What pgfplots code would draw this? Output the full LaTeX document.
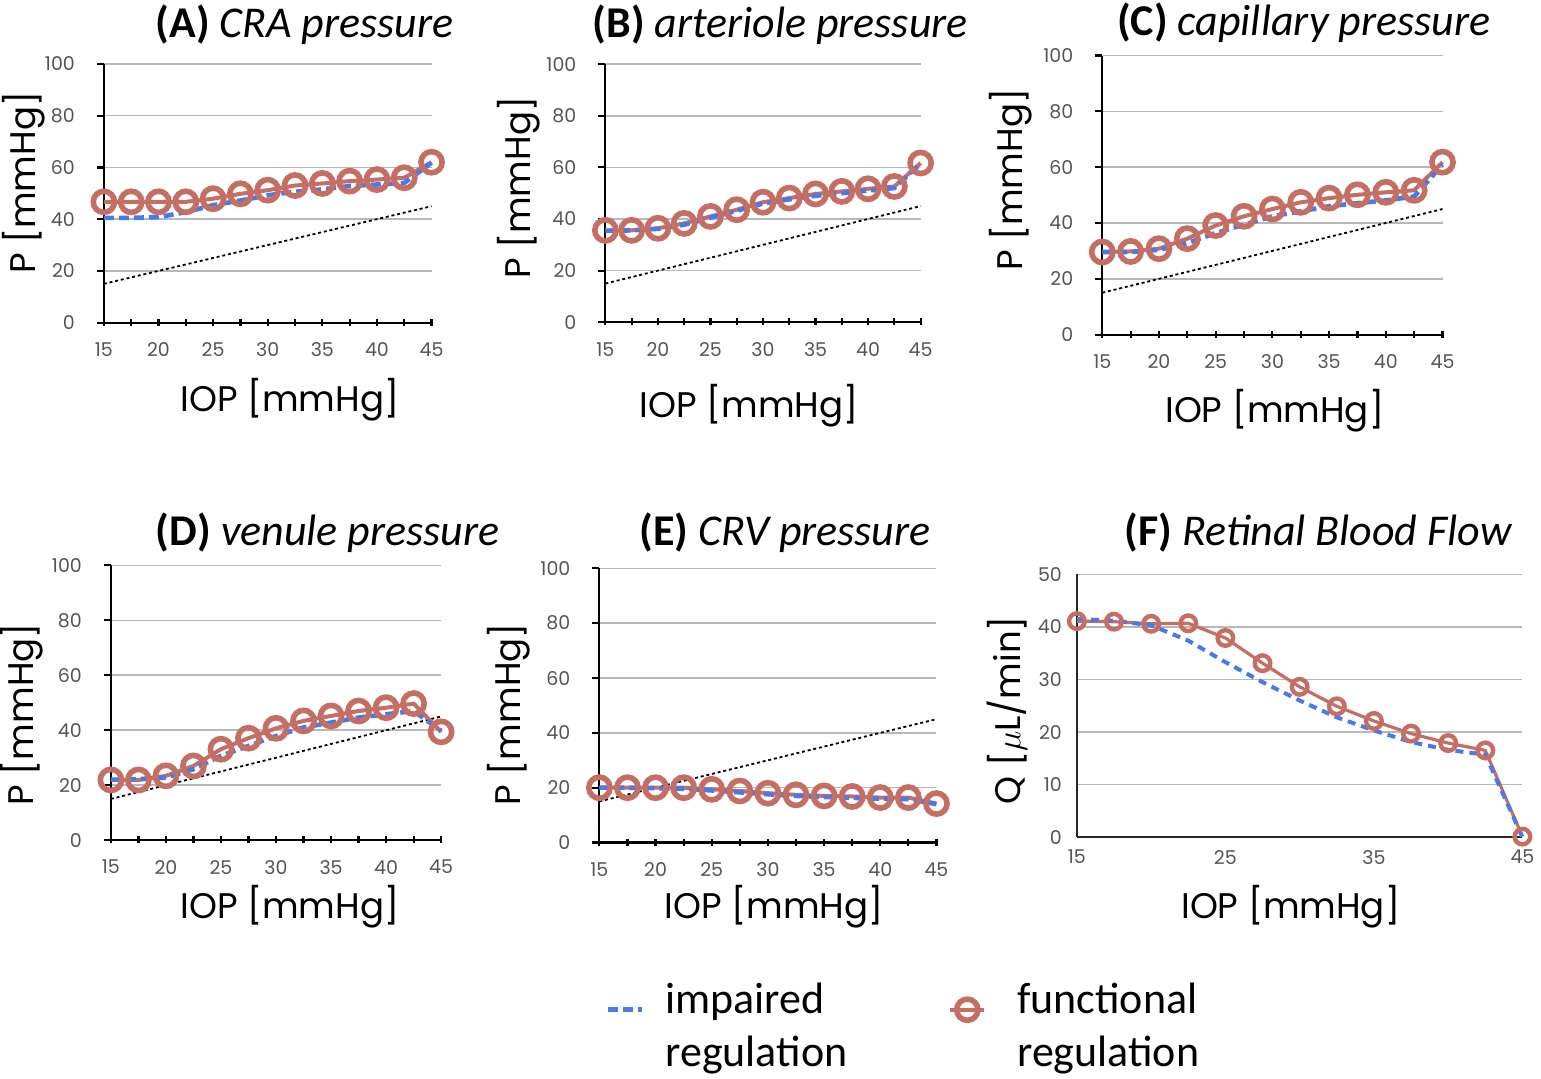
\documentclass[border=0pt]{standalone}
\usepackage{fontspec}
\setmainfont{Carlito}
\newfontfamily\popfont{Poppins}
\usepackage{pgfplots}
\usepackage{pgfplotstable}
\pgfplotsset{compat=1.18}

\definecolor{fred}{RGB}{196,110,100}
\definecolor{iblue}{RGB}{72,122,238}
\definecolor{tickgray}{RGB}{85,85,85}

\pgfplotstableread{
x f i
15 46.7 40.5
17.5 46.7 40.5
20 46.7 40.8
22.5 46.7 42.7
25 47.9 45.4
27.5 49.8 47.2
30 51.2 49.2
32.5 53.0 50.6
35 53.8 51.5
37.5 54.7 52.8
40 55.3 53.4
42.5 56.0 54.0
45 62.0 61.8
}\dataA
\pgfplotstableread{
x f i
15 35.6 35.4
17.5 35.6 35.6
20 36.4 36.2
22.5 38.3 37.8
25 41.0 40.5
27.5 43.6 43.2
30 46.5 46.0
32.5 48.1 47.6
35 49.7 49.0
37.5 50.7 50.0
40 51.7 51.0
42.5 52.6 52.0
45 61.7 61.5
}\dataB
\pgfplotstableread{
x f i
15 29.6 29.6
17.5 29.8 29.6
20 30.8 30.4
22.5 34.4 32.8
25 39.1 36.4
27.5 42.4 39.4
30 45.0 42.4
32.5 47.4 44.2
35 48.9 46.0
37.5 50.1 47.1
40 51.0 48.1
42.5 51.7 49.5
45 61.8 60.9
}\dataC
\pgfplotstableread{
x f i
15 21.9 22.0
17.5 21.9 22.2
20 23.4 22.8
22.5 27.0 25.8
25 33.1 30.7
27.5 37.1 34.3
30 40.7 37.9
32.5 43.4 41.0
35 45.2 42.8
37.5 47.0 44.6
40 48.2 45.8
42.5 49.7 47.0
45 39.4 39.8
}\dataD
\pgfplotstableread{
x f i
15 20.0 20.0
17.5 20.0 20.0
20 20.0 19.8
22.5 20.0 19.6
25 19.4 19.0
27.5 18.8 18.3
30 18.0 17.6
32.5 17.4 17.0
35 17.0 16.6
37.5 16.8 16.3
40 16.4 16.0
42.5 16.4 15.8
45 14.2 14.0
}\dataE
\pgfplotstableread{
x f i
15 41.1 41.5
17.5 41.0 41.2
20 40.6 40.3
22.5 40.7 37.4
25 37.9 33.3
27.5 33.1 29.5
30 28.6 26.0
32.5 24.9 22.8
35 22.1 20.3
37.5 19.7 18.1
40 17.9 16.6
42.5 16.5 15.7
45 0.1 0.0
}\dataF

\tikzset{ticklab/.style={font=\popfont\fontsize{9.5}{10}\selectfont, text=tickgray},
  lbl/.style={overlay, inner sep=0pt}}
\pgfplotsset{
  panel/.style={
    scale only axis, clip=false,
    axis x line=bottom, axis y line=left,
    axis line style={-, black, line width=1.1pt},
    xmin=15, xmax=45, ymin=0, ymax=100,
    xtick={15,20,...,45}, minor xtick={17.5,22.5,...,42.5},
    ytick={0,20,...,100},
    ymajorgrids, major grid style={black!28, line width=0.8pt},
    tick align=outside,
    major tick length=3.5pt, minor tick length=3.5pt,
    tick style={black, line width=1.1pt},
    x tick style={yshift=2pt},
    /pgf/number format/assume math mode=true,
    x tick label style={ticklab, yshift=-3pt},
    y tick label style={ticklab, xshift=-7.5pt},
  },
  funct/.style={color=fred, line width=2pt, mark=o, mark size=5.3pt,
    mark options={solid, fill=white, line width=2.8pt}},
  impair/.style={color=iblue, line width=2.3pt, dash pattern=on 5pt off 2.5pt},
  ident/.style={black, line width=0.9pt, dash pattern=on 1.5pt off 1.4pt},
}

\newcommand\mytitle[2]{\fontsize{22}{26}\selectfont\textbf{(#1)} \textit{#2}}
\newcommand\mylab{\popfont\fontsize{17.8}{22}\selectfont}

\begin{document}
\begin{tikzpicture}
\path (0,0) rectangle (770.5pt,540pt);

% (A)
\begin{axis}[panel, at={(52pt,378.5pt)}, anchor=south west, width=164pt, height=129.5pt]
\addplot[ident] coordinates {(15,15) (45,45)};
\addplot[funct] table[x=x,y=f] {\dataA};
\addplot[impair] table[x=x,y=i] {\dataA};
\end{axis}
% (B)
\begin{axis}[panel, at={(303pt,378.7pt)}, anchor=south west, width=157.8pt, height=129.2pt]
\addplot[ident] coordinates {(15,15) (45,45)};
\addplot[funct] table[x=x,y=f] {\dataB};
\addplot[impair] table[x=x,y=i] {\dataB};
\end{axis}
% (C)
\begin{axis}[panel, at={(551.7pt,372.5pt)}, anchor=south west, width=170.3pt, height=139.7pt]
\addplot[ident] coordinates {(15,15) (45,45)};
\addplot[funct] table[x=x,y=f] {\dataC};
\addplot[impair] table[x=x,y=i] {\dataC};
\end{axis}
% (D)
\begin{axis}[panel, at={(55.5pt,119.5pt)}, anchor=south west, width=165.3pt, height=137.5pt]
\addplot[ident] coordinates {(15,15) (45,45)};
\addplot[funct] table[x=x,y=f] {\dataD};
\addplot[impair] table[x=x,y=i] {\dataD};
\end{axis}
% (E)
\begin{axis}[panel, at={(300pt,118.3pt)}, anchor=south west, width=168.7pt, height=137.2pt,
  legend style={at={(axis description cs:0.0,-0.61)}, anchor=west, draw=none, fill=none,
    font=\fontsize{22}{26.5}\selectfont, legend columns=2,
    /tikz/column 1/.style={column sep=8.5pt},
    /tikz/column 2/.style={column sep=48.5pt},
    /tikz/column 3/.style={column sep=13.5pt}},
  legend cell align=left]
\addplot[ident, forget plot] coordinates {(15,15) (45,45)};
\addplot[funct, forget plot] table[x=x,y=f] {\dataE};
\addplot[impair, forget plot] table[x=x,y=i] {\dataE};
\addlegendimage{impair}
\addlegendentry{\begin{tabular}{@{}l@{}}impaired\\regulation\end{tabular}}
\addlegendimage{funct}
\addlegendentry{\begin{tabular}{@{}l@{}}functional\\regulation\end{tabular}}
\end{axis}
% (F)
\begin{axis}[scale only axis, clip=false, at={(539pt,121pt)}, anchor=south west, width=223pt, height=131.5pt,
    axis x line=bottom, axis y line=left,
    axis line style={-, black!85, line width=0.8pt},
    xmin=15, xmax=45, ymin=0, ymax=50,
    xtick={15,25,35,45}, ytick={0,10,...,50},
    ymajorgrids, major grid style={black!28, line width=0.8pt},
    major tick length=0pt,
    /pgf/number format/assume math mode=true,
    x tick label style={ticklab, yshift=-3pt},
    y tick label style={ticklab, xshift=-4pt}]
\addplot[color=fred, line width=1.6pt, mark=o, mark size=3.9pt,
    mark options={solid, fill=white, line width=2.2pt}] table[x=x,y=f] {\dataF};
\addplot[color=iblue, line width=2pt, dash pattern=on 4pt off 3pt] table[x=x,y=i] {\dataF};
\end{axis}

% titles
\node[lbl, anchor=base] at (152.5pt,521pt) {\mytitle{A}{CRA pressure}};
\node[lbl, anchor=base] at (390.5pt,521pt) {\mytitle{B}{arteriole pressure}};
\node[lbl, anchor=base] at (652.5pt,522pt) {\mytitle{C}{capillary pressure}};
\node[lbl, anchor=base] at (164pt,267pt) {\mytitle{D}{venule pressure}};
\node[lbl, anchor=base] at (393pt,267pt) {\mytitle{E}{CRV pressure}};
\node[lbl, anchor=base] at (660pt,267pt) {\mytitle{F}{Retinal Blood Flow}};

% y labels
\node[lbl, rotate=90] at (12pt,448.5pt) {\mylab P [mmHg]};
\node[lbl, rotate=90] at (259.5pt,446pt) {\mylab P [mmHg]};
\node[lbl, rotate=90] at (506pt,450pt) {\mylab P [mmHg]};
\node[lbl, rotate=90] at (11pt,182.5pt) {\mylab P [mmHg]};
\node[lbl, rotate=90] at (254.5pt,182.5pt) {\mylab P [mmHg]};
\node[lbl, rotate=90] at (504pt,184.5pt) {\mylab Q [$\mu$L/min]};

% x labels
\node[lbl] at (145pt,340pt) {\mylab IOP [mmHg]};
\node[lbl] at (375pt,337pt) {\mylab IOP [mmHg]};
\node[lbl] at (638pt,334.5pt) {\mylab IOP [mmHg]};
\node[lbl] at (145pt,86pt) {\mylab IOP [mmHg]};
\node[lbl] at (387.5pt,86pt) {\mylab IOP [mmHg]};
\node[lbl] at (646pt,86pt) {\mylab IOP [mmHg]};
\end{tikzpicture}
\end{document}
